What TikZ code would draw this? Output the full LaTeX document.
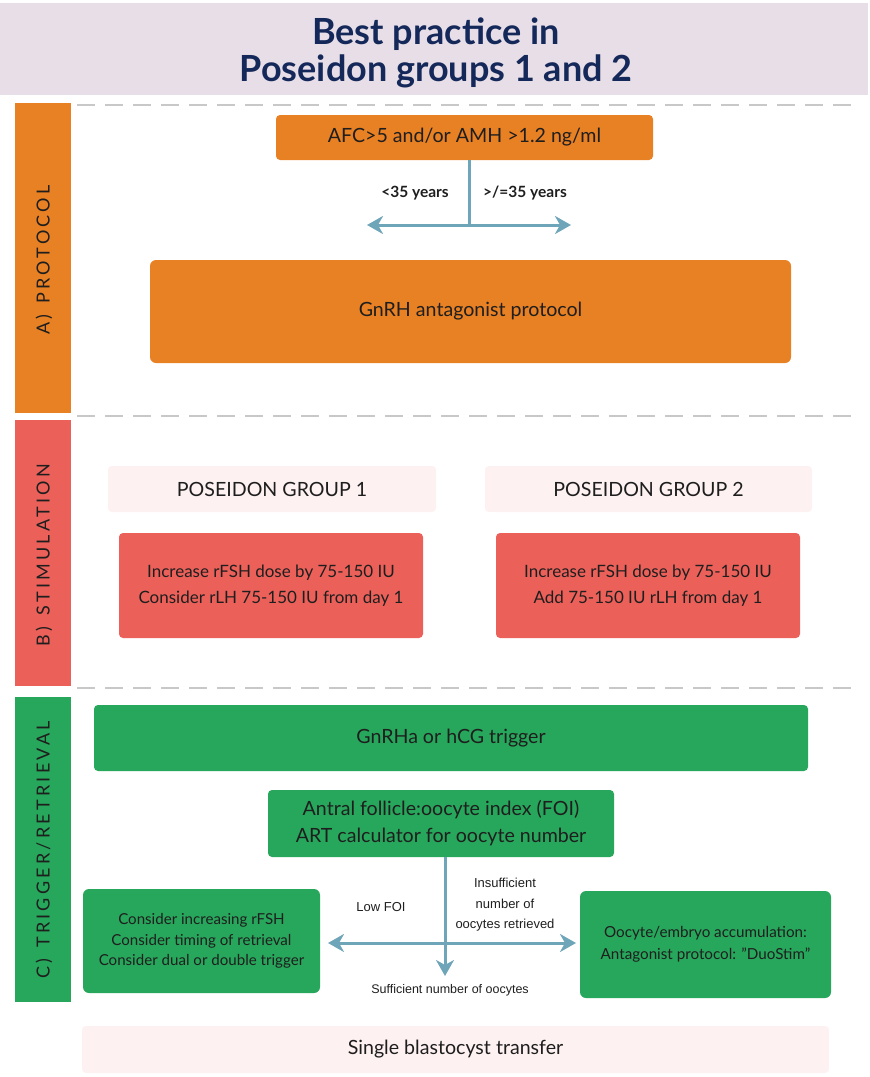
\documentclass[tikz,border=0pt]{standalone}
\usepackage{fontspec}
\setmainfont{Lato}
\newfontfamily\arialf{Liberation Sans}
\usetikzlibrary{arrows.meta}
\definecolor{cOrange}{HTML}{E88024}
\definecolor{cRed}{HTML}{EB615A}
\definecolor{cGreen}{HTML}{27A75B}
\definecolor{cPink}{HTML}{FDF1F1}
\definecolor{cLav}{HTML}{E8DEE7}
\definecolor{cTeal}{HTML}{6FA5B8}
\definecolor{cNavy}{HTML}{14295A}
\definecolor{cText}{HTML}{1E1E1E}
\definecolor{cDash}{HTML}{C8C8C8}
\tikzset{
  box/.style={rounded corners=4pt, inner sep=0pt, text=cText, align=center, font=\fontsize{19.6}{26}\selectfont},
  obox/.style={box, fill=cOrange},
  rbox/.style={box, fill=cRed, font=\fontsize{17}{26}\selectfont},
  gbox/.style={box, fill=cGreen},
  pbox/.style={box, fill=cPink},
  sidetext/.style={rotate=90, text=cText, font=\fontsize{18}{18}\selectfont\addfontfeatures{LetterSpace=18}},
  titletext/.style={text=cNavy, anchor=base, font=\bfseries\fontsize{36}{36}\selectfont},
  sep/.style={cDash, line width=2pt, dash pattern=on 18pt off 10pt},
  conn/.style={cTeal, line width=3pt},
  arr/.style={conn, -{Stealth[length=16pt, width=18pt, inset=5pt]}},
  lbl/.style={font=\arialf\fontsize{13}{20.5}\selectfont, text=cText, align=center},
  agelbl/.style={font=\bfseries\fontsize{15.5}{16}\selectfont, text=cText}
}
\begin{document}
\begin{tikzpicture}[x=1pt, y=-1pt]
\useasboundingbox (0,0) rectangle (870,1077);
% title
\fill[cLav] (0,3) rectangle (868,95);
\node[titletext] (title1) at (436,44) {Best practice in};
\node[titletext] (title2) at (436,81) {Poseidon groups 1 and 2};
% separators
\draw[sep] (77,105) -- (852,105);
\draw[sep] (77,416) -- (852,416);
\draw[sep] (77,688) -- (852,688);
% side bars
\fill[cOrange] (15,103) rectangle (71,413);
\fill[cRed] (15,420) rectangle (71,686);
\fill[cGreen] (15,697) rectangle (71,1002);
\node[sidetext] (sa) at (44,260) {A)\, PROTOCOL};
\node[sidetext] (sb) at (44,555) {B)\, STIMULATION};
\node[sidetext] (sc) at (44,850) {C)\, TRIGGER/RETRIEVAL};
% protocol
\node[obox, minimum width=377pt, minimum height=45pt] (afc) at (464.5,137.5) {AFC>5 and/or AMH >1.2 ng/ml};
\coordinate (split) at (469,225);
\coordinate (lt) at (367,225);
\coordinate (rt) at (571,225);
\draw[conn] (afc.south -| split) -- (split);
\draw[arr] (split) -- (lt);
\draw[arr] (split) -- (rt);
\node[agelbl] (l35) at (415,193) {<35 years};
\node[agelbl] (g35) at (525,193) {>/=35 years};
\node[obox, rounded corners=6pt, minimum width=641pt, minimum height=103pt] (gnrh) at (470.5,311.5) {GnRH antagonist protocol};
% stimulation
\node[pbox, minimum width=328pt, minimum height=46pt] (pg1) at (272,489) {POSEIDON GROUP 1};
\node[pbox, minimum width=327pt, minimum height=46pt] (pg2) at (648.5,489) {POSEIDON GROUP 2};
\node[rbox, minimum width=304pt, minimum height=105pt] (r1) at (271,585.5) {Increase rFSH dose by 75-150 IU\\Consider rLH 75-150 IU from day 1};
\node[rbox, minimum width=304pt, minimum height=105pt] (r2) at (648,585.5) {Increase rFSH dose by 75-150 IU\\Add 75-150 IU rLH from day 1};
% trigger
\node[gbox, minimum width=714pt, minimum height=66pt] (trig) at (451,738) {GnRHa or hCG trigger};
\node[gbox, minimum width=346pt, minimum height=67pt, font=\fontsize{19.6}{27}\selectfont] (foi) at (441,823.5) {Antral follicle:oocyte index (FOI)\\ART calculator for oocyte number};
\node[gbox, rounded corners=6pt, minimum width=237pt, minimum height=104pt, font=\fontsize{15.1}{20.5}\selectfont] (low) at (201.5,941) {Consider increasing rFSH\\Consider timing of retrieval\\Consider dual or double trigger};
\node[gbox, rounded corners=6pt, minimum width=251pt, minimum height=107pt, font=\fontsize{15.2}{22}\selectfont] (acc) at (705.5,944.5) {Oocyte/embryo accumulation:\\Antagonist protocol: "DuoStim"};
\coordinate (hub) at (445,943);
\coordinate (ltip) at (328,943);
\coordinate (rtip) at (576,943);
\coordinate (dtip) at (445,976);
\draw[conn] (foi.south -| hub) -- (hub);
\draw[arr] (hub) -- (ltip);
\draw[arr] (hub) -- (rtip);
\draw[arr] (hub) -- (dtip);
\node[lbl] (lowfoi) at (381,907) {Low FOI};
\node[lbl] (insuf) at (505,905) {Insufficient\\number of\\oocytes retrieved};
\node[lbl, font=\arialf\fontsize{12.5}{15}\selectfont] (suff) at (450,990) {Sufficient number of oocytes};
% final
\node[pbox, minimum width=747pt, minimum height=47pt] (sbt) at (455.5,1049.5) {Single blastocyst transfer};
\end{tikzpicture}
\end{document}
